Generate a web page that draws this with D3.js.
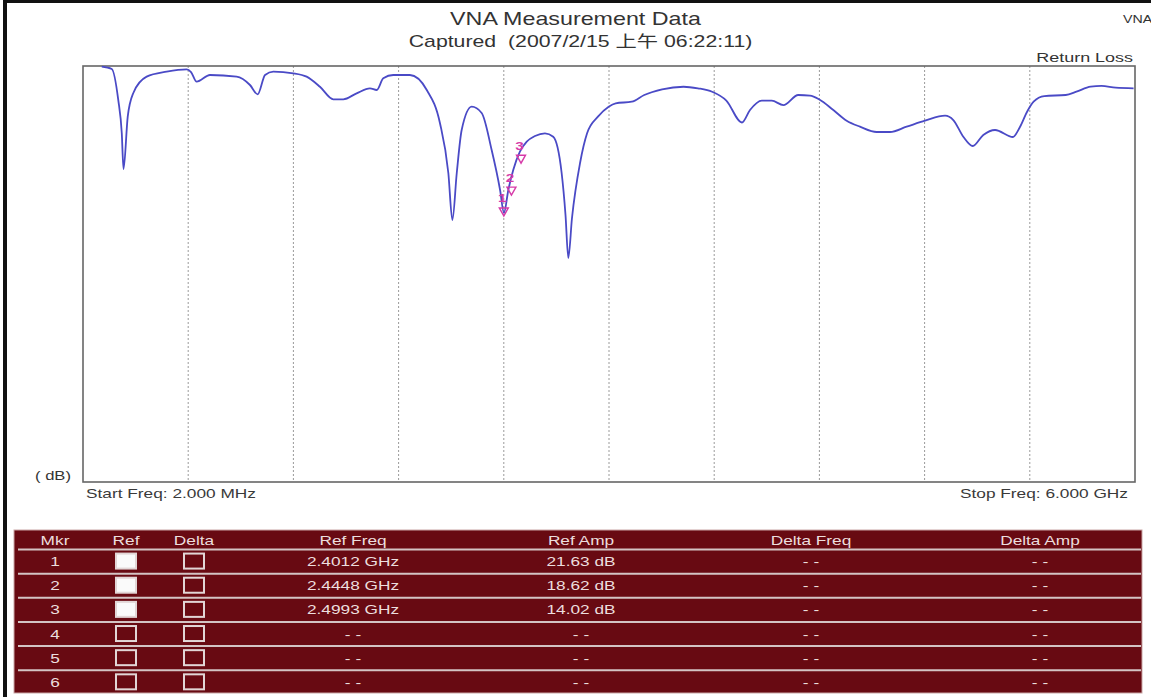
<!DOCTYPE html>
<html><head><meta charset="utf-8">
<script src="https://cdn.jsdelivr.net/npm/d3@7"></script>
<style>
html,body{margin:0;padding:0;background:#fff;}
svg{display:block;}
text{font-family:"Liberation Sans", Arial, "Noto Sans CJK SC", sans-serif;}
</style></head><body>
<svg id="chart" width="1151" height="697"></svg>
<script>
// ---- data ----
const freqGHz = [0.109,0.166,0.203,0.223,0.233,0.257,0.289,0.365,0.479,0.593,0.618,0.650,0.726,0.878,0.954,0.998,1.040,1.087,1.201,1.277,1.353,1.429,1.486,1.562,1.638,1.677,1.714,1.771,1.866,1.962,2.037,2.085,2.108,2.133,2.161,2.218,2.275,2.332,2.380,2.402,2.427,2.455,2.493,2.532,2.579,2.636,2.683,2.731,2.753,2.769,2.790,2.836,2.876,2.938,2.999,3.039,3.131,3.202,3.304,3.426,3.508,3.589,3.670,3.759,3.805,3.872,3.929,3.995,4.080,4.147,4.198,4.280,4.356,4.432,4.527,4.603,4.698,4.803,4.917,4.964,5.021,5.075,5.135,5.202,5.304,5.344,5.384,5.422,5.483,5.605,5.666,5.747,5.809,5.890,5.992];
const returnLossDb = [0.10,0.43,4.90,9.66,14.86,7.31,3.89,1.54,0.82,0.48,0.87,2.26,1.30,1.54,2.74,4.08,1.30,0.82,1.05,1.54,2.99,4.80,4.80,3.94,3.22,3.46,1.77,1.30,1.30,3.46,8.22,15.43,22.21,15.43,9.23,5.87,6.78,12.12,17.88,21.20,17.88,15.00,12.36,10.92,10.10,9.71,10.20,15.43,21.49,27.69,21.92,13.99,9.71,7.31,5.87,5.38,5.15,4.18,3.36,2.99,3.22,3.71,4.98,8.15,6.35,5.00,5.00,5.63,4.18,4.28,4.80,6.35,7.89,8.75,9.52,9.52,8.75,7.89,7.17,7.79,10.20,11.54,9.95,9.23,10.24,8.80,6.63,5.15,4.33,4.18,3.71,2.99,2.88,3.13,3.22];

const markerFreqGHz = [2.4012, 2.4448, 2.4993];
const markerAmpDb = [21.63, 18.62, 14.02];

const tableHeaders = ["Mkr","Ref","Delta","Ref Freq","Ref Amp","Delta Freq","Delta Amp"];
const markerIds = ["1","2","3","4","5","6"];
const refOn = [true,true,true,false,false,false];
const deltaOn = [false,false,false,false,false,false];
const refFreqLabels = ["2.4012 GHz","2.4448 GHz","2.4993 GHz","- -","- -","- -"];
const refAmpLabels = ["21.63 dB","18.62 dB","14.02 dB","- -","- -","- -"];
const deltaFreqLabels = ["- -","- -","- -","- -","- -","- -"];
const deltaAmpLabels = ["- -","- -","- -","- -","- -","- -"];

const startFreqGHz = 0.002, stopFreqGHz = 6.0;
const dbDomain = [0, 60];
const gridDivisions = 10;

const titleText = "VNA Measurement Data";
const subtitleText = "Captured  (2007/2/15 上午 06:22:11)";
const startLabel = "Start Freq: 2.000 MHz";
const stopLabel = "Stop Freq: 6.000 GHz";

// ---- drawing ----
const svg = d3.select("#chart");
const SX = 1.33; // horizontal stretch of the original screenshot text

function label(g, txt, x, y, size, anchor, color, weight) {
  return g.append("text")
    .attr("transform", `translate(${x},${y}) scale(${SX},1)`)
    .attr("text-anchor", anchor)
    .attr("font-size", size)
    .attr("fill", color)
    .attr("font-weight", weight || "normal")
    .style("white-space", "pre")
    .text(txt);
}

// frame bars
svg.append("rect").attr("x", 3).attr("y", 0).attr("width", 1148).attr("height", 3).attr("fill", "#111");
svg.append("rect").attr("x", 3).attr("y", 0).attr("width", 4).attr("height", 697).attr("fill", "#111");

// titles
label(svg, titleText, 575.5, 25, 17.5, "middle", "#333");
label(svg, subtitleText, 580.5, 47, 16, "middle", "#333");
label(svg, "VNA", 1123, 23, 10.7, "start", "#333");
label(svg, "Return Loss", 1133, 62, 13.5, "end", "#333");

// plot area
const plot = {left: 83, right: 1135, top: 66, bottom: 482};
const x = d3.scaleLinear().domain([startFreqGHz, stopFreqGHz]).range([plot.left, plot.right]);
const y = d3.scaleLinear().domain(dbDomain).range([plot.top, plot.bottom]);

const gridFreqs = d3.range(1, gridDivisions).map(k => startFreqGHz + k * (stopFreqGHz - startFreqGHz) / gridDivisions);
svg.append("g").selectAll("line").data(gridFreqs).join("line")
  .attr("x1", d => x(d)).attr("x2", d => x(d))
  .attr("y1", plot.top).attr("y2", plot.bottom)
  .attr("stroke", "#9a9a9a").attr("stroke-width", 1).attr("stroke-dasharray", "2,2");

svg.append("rect")
  .attr("x", plot.left).attr("y", plot.top)
  .attr("width", plot.right - plot.left).attr("height", plot.bottom - plot.top)
  .attr("fill", "none").attr("stroke", "#666").attr("stroke-width", 1.6);

label(svg, "( dB)", 35, 480, 12.5, "start", "#333");
label(svg, startLabel, 86, 498, 13, "start", "#3a3a3a");
label(svg, stopLabel, 1128, 498, 13, "end", "#3a3a3a");

// curve
const pts = freqGHz.map((f, i) => ({f, db: returnLossDb[i]}));
const line = d3.line().x(d => x(d.f)).y(d => y(d.db)).curve(d3.curveMonotoneX);
svg.append("path").datum(pts)
  .attr("d", line)
  .attr("fill", "none").attr("stroke", "#4a4ac6").attr("stroke-width", 1.8)
  .attr("stroke-linejoin", "round");

// markers
const mk = markerFreqGHz.map((f, i) => ({f, db: markerAmpDb[i], id: markerIds[i]}));
const mg = svg.append("g");
mk.forEach(d => {
  const cx = x(d.f), cy = y(d.db);
  mg.append("path")
    .attr("d", `M${cx},${cy} L${cx - 4.5},${cy - 8} L${cx + 4.5},${cy - 8} Z`)
    .attr("fill", "none").attr("stroke", "#d63aa8").attr("stroke-width", 1.4);
  label(mg, d.id, cx - 1.5, cy - 13.5, 11.5, "middle", "#d63aa8", "bold");
});

// table
const tbl = {left: 14, right: 1142, top: 530, bottom: 693};
const tg = svg.append("g");
tg.append("rect").attr("x", tbl.left).attr("y", tbl.top)
  .attr("width", tbl.right - tbl.left).attr("height", tbl.bottom - tbl.top)
  .attr("fill", "#680a12").attr("stroke", "#c9a5a5").attr("stroke-width", 1);

const colX = [55, 126, 194, 353, 581, 811, 1040];
const headerBottom = 549.5;
const rowH = 24.15;
const textColor = "#ecdede";

tableHeaders.forEach((h, i) => label(tg, h, colX[i], 545, 13, "middle", textColor));

// separators
const sepY = [headerBottom].concat(markerIds.slice(0, 5).map((_, i) => headerBottom + (i + 1) * rowH));
tg.selectAll("line.sep").data(sepY).join("line").attr("class", "sep")
  .attr("x1", 18).attr("x2", 1141).attr("y1", d => d).attr("y2", d => d)
  .attr("stroke", "#d4c4c4").attr("stroke-width", 2);

markerIds.forEach((id, r) => {
  const cy = headerBottom + r * rowH + rowH / 2;
  const by = cy + 4.6;
  label(tg, id, colX[0], by, 13, "middle", textColor);
  [[colX[1], refOn[r]], [colX[2], deltaOn[r]]].forEach(([cx, on]) => {
    tg.append("rect").attr("x", cx - 10).attr("y", cy - 8).attr("width", 20).attr("height", 15)
      .attr("fill", on ? "#fafafa" : "none").attr("stroke", "#e2d6d6").attr("stroke-width", 2);
  });
  label(tg, refFreqLabels[r], colX[3], by, 13, "middle", textColor);
  label(tg, refAmpLabels[r], colX[4], by, 13, "middle", textColor);
  label(tg, deltaFreqLabels[r], colX[5], by, 13, "middle", textColor);
  label(tg, deltaAmpLabels[r], colX[6], by, 13, "middle", textColor);
});
</script>
</body></html>
